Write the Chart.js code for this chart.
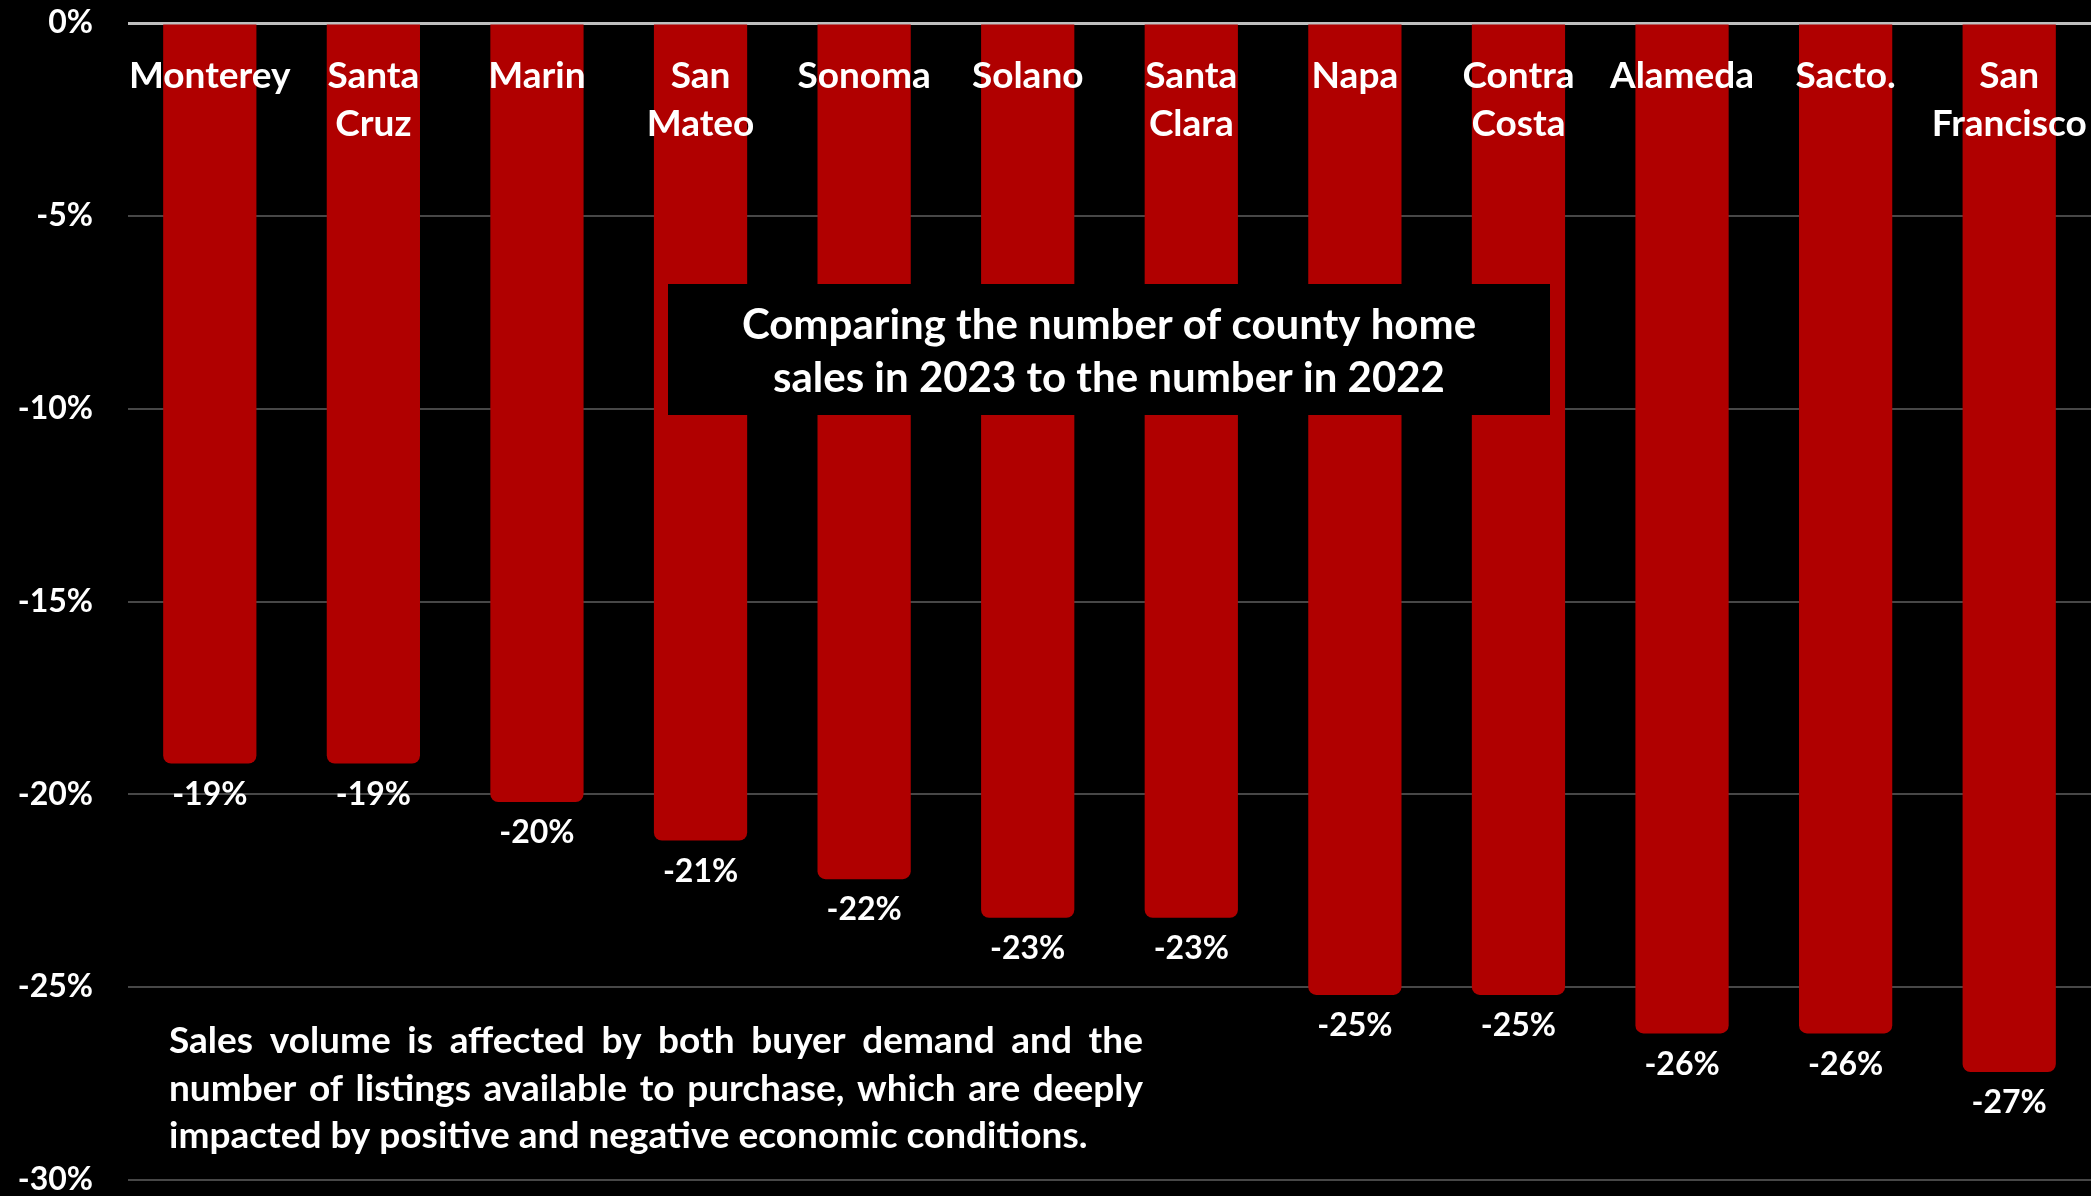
<!DOCTYPE html>
<html>
<head>
<meta charset="utf-8">
<script src="https://cdn.jsdelivr.net/npm/chart.js@4/dist/chart.umd.min.js"></script>
<style>
  html, body { margin: 0; padding: 0; background: #000; }
  canvas { display: block; }
</style>
</head>
<body>
<canvas id="c" width="2091" height="1196"></canvas>
<script>
// ---- data ----
const categories = [
  'Monterey', ['Santa', 'Cruz'], 'Marin', ['San', 'Mateo'], 'Sonoma', 'Solano',
  ['Santa', 'Clara'], 'Napa', ['Contra', 'Costa'], 'Alameda', 'Sacto.', ['San', 'Francisco']
];
const salesChange = [-19.2, -19.2, -20.2, -21.2, -22.2, -23.2, -23.2, -25.2, -25.2, -26.2, -26.2, -27.2];
const yTicks = [0, -5, -10, -15, -20, -25, -30];
const titleLines = ['Comparing the number of county home', 'sales in 2023 to the number in 2022'];
const noteLines = [
  'Sales volume is affected by both buyer demand and the',
  'number of listings available to purchase, which are deeply',
  'impacted by positive and negative economic conditions.'
];

const FONT = 'Lato, "Open Sans", sans-serif';
Chart.defaults.font.family = FONT;
Chart.defaults.font.weight = 'bold';
Chart.defaults.color = '#ffffff';

const bgPlugin = {
  id: 'bg',
  beforeDraw(chart) {
    const ctx = chart.ctx;
    ctx.save();
    ctx.fillStyle = '#000';
    ctx.fillRect(0, 0, chart.width, chart.height);
    ctx.restore();
  }
};

// category labels drawn from the x scale, on top of the bars
const categoryLabels = {
  id: 'categoryLabels',
  afterDatasetsDraw(chart) {
    const ctx = chart.ctx;
    const xs = chart.scales.x;
    const top = chart.chartArea.top;
    ctx.save();
    ctx.fillStyle = '#fff';
    ctx.font = 'bold 37px ' + FONT;
    ctx.textAlign = 'center';
    ctx.textBaseline = 'middle';
    chart.data.labels.forEach((lab, i) => {
      const x = xs.getPixelForValue(i);
      const lines = Array.isArray(lab) ? lab : [lab];
      lines.forEach((ln, k) => ctx.fillText(ln, x, top + 53 + k * 48));
    });
    ctx.restore();
  }
};

const valueLabels = {
  id: 'valueLabels',
  afterDatasetsDraw(chart) {
    const ctx = chart.ctx;
    const meta = chart.getDatasetMeta(0);
    ctx.save();
    ctx.fillStyle = '#fff';
    ctx.font = 'bold 32px ' + FONT;
    ctx.textAlign = 'center';
    ctx.textBaseline = 'middle';
    meta.data.forEach((el, i) => {
      const v = chart.data.datasets[0].data[i];
      ctx.fillText(Math.round(v) + '%', el.x, el.y + 31);
    });
    ctx.restore();
  }
};

const annotations = {
  id: 'annotations',
  afterDatasetsDraw(chart) {
    const ctx = chart.ctx;
    ctx.save();
    // title box
    ctx.fillStyle = '#000';
    ctx.fillRect(668, 284, 882, 131);
    ctx.fillStyle = '#fff';
    ctx.font = 'bold 42px ' + FONT;
    ctx.textAlign = 'center';
    ctx.textBaseline = 'middle';
    ctx.fillText(titleLines[0], 1109, 325);
    ctx.fillText(titleLines[1], 1109, 378);

    // note, justified
    ctx.font = 'bold 37px ' + FONT;
    ctx.textAlign = 'left';
    const left = 169, right = 1143, ys = [1041, 1089, 1136];
    noteLines.forEach((line, li) => {
      const words = line.split(' ');
      if (li === noteLines.length - 1) {
        ctx.fillText(line, left, ys[li]);
        return;
      }
      const widths = words.map(w => ctx.measureText(w).width);
      const total = widths.reduce((a, b) => a + b, 0);
      const gap = (right - left - total) / (words.length - 1);
      let x = left;
      words.forEach((w, i) => {
        ctx.fillText(w, x, ys[li]);
        x += widths[i] + gap;
      });
    });
    ctx.restore();
  }
};

new Chart(document.getElementById('c'), {
  type: 'bar',
  data: {
    labels: categories,
    datasets: [{
      data: salesChange,
      backgroundColor: '#b00000',
      borderWidth: 0,
      borderRadius: 8,
      categoryPercentage: 1,
      barPercentage: 0.57
    }]
  },
  options: {
    responsive: false,
    animation: false,
    events: [],
    layout: { padding: { left: 0, right: 0, top: 23, bottom: 16 } },
    plugins: { legend: { display: false }, tooltip: { enabled: false } },
    scales: {
      x: {
        display: false
      },
      y: {
        min: -30,
        max: 0,
        afterBuildTicks(scale) { scale.ticks = yTicks.map(v => ({ value: v })); },
        grid: {
          drawTicks: false,
          color: ctx => (ctx.tick && ctx.tick.value === 0) ? '#bfbfbf' : '#474747',
          lineWidth: ctx => (ctx.tick && ctx.tick.value === 0) ? 3 : 2
        },
        border: { display: false },
        ticks: {
          padding: 35,
          color: '#fff',
          font: { size: 32, weight: 'bold', lineHeight: 1 },
          callback: v => v + '%'
        },
        afterFit(scale) {
          scale.width = 128;
          scale.paddingTop = 0;
          scale.paddingBottom = 0;
        }
      }
    }
  },
  plugins: [bgPlugin, valueLabels, annotations, categoryLabels]
});
</script>
</body>
</html>
